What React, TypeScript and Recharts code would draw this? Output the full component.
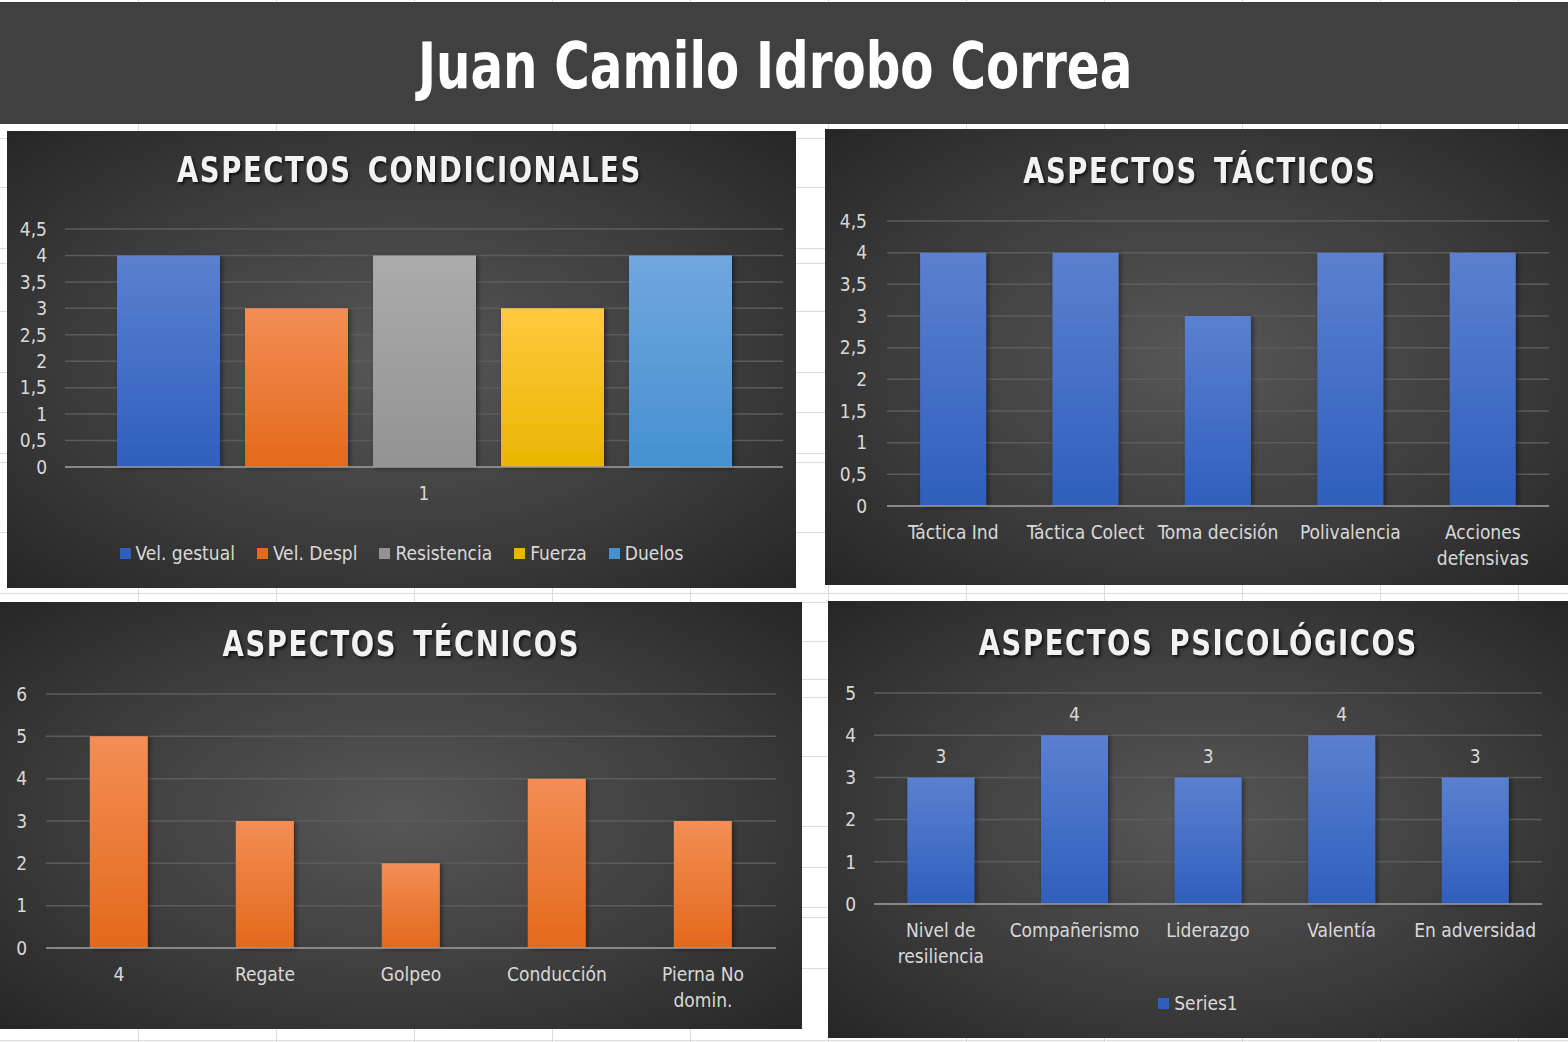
import React from 'react';
import { BarChart, Bar, XAxis, YAxis, CartesianGrid, LabelList } from 'recharts';

const FONT = "'Liberation Sans Narrow', 'DejaVu Sans Condensed', 'Open Sans', sans-serif";
const TEXT_COLOR = '#d9d9d9';
const GRID_COLOR = '#5c5c5c';
const AXIS_COLOR = '#9a9a9a';
const AX_FS = 19;

// ---------- data ----------
const pageTitle = 'Juan Camilo Idrobo Correa';

const condTitle = 'ASPECTOS CONDICIONALES';
const condCategories = ['1'];
const condSeries = ['Vel. gestual', 'Vel. Despl', 'Resistencia', 'Fuerza', 'Duelos'];
const condValues = [4, 3, 4, 3, 4];
const condColors = [
  ['#5b80cf', '#2f5fbd'],
  ['#f38e55', '#e3691c'],
  ['#ababab', '#939393'],
  ['#ffc93e', '#e9b600'],
  ['#70a7de', '#4690d0'],
];
const condTicks = [0, 0.5, 1, 1.5, 2, 2.5, 3, 3.5, 4, 4.5];

const tactTitle = 'ASPECTOS TÁCTICOS';
const tactCategories = ['Táctica Ind', 'Táctica Colect', 'Toma decisión', 'Polivalencia', 'Acciones defensivas'];
const tactValues = [4, 4, 3, 4, 4];
const tactTicks = [0, 0.5, 1, 1.5, 2, 2.5, 3, 3.5, 4, 4.5];

const tecTitle = 'ASPECTOS TÉCNICOS';
const tecCategories = ['4', 'Regate', 'Golpeo', 'Conducción', 'Pierna No domin.'];
const tecValues = [5, 3, 2, 4, 3];
const tecTicks = [0, 1, 2, 3, 4, 5, 6];

const psiTitle = 'ASPECTOS PSICOLÓGICOS';
const psiCategories = ['Nivel de resiliencia', 'Compañerismo', 'Liderazgo', 'Valentía', 'En adversidad'];
const psiValues = [3, 4, 3, 4, 3];
const psiSeriesName = 'Series1';
const psiTicks = [0, 1, 2, 3, 4, 5];

const BLUE = ['#5b80cf', '#2f5fbd'];
const ORANGE = ['#f38e55', '#e3691c'];

const sheetCols = [138, 276, 414, 552, 690, 828, 966, 1104, 1242, 1380, 1518];
const sheetRows = [138, 187, 248, 263, 311, 372, 412, 453, 462, 532, 593, 602, 641, 679, 697, 756, 826, 867, 907, 917, 968, 1040];

// ---------- helpers ----------
const fmt = (v: number) => String(v).replace('.', ',');

const tickStyle = { fill: TEXT_COLOR, fontSize: AX_FS, fontFamily: FONT };

let measureCtx: CanvasRenderingContext2D | null = null;
const measure = (s: string) => {
  if (!measureCtx) measureCtx = document.createElement('canvas').getContext('2d');
  if (!measureCtx) return s.length * AX_FS * 0.5;
  measureCtx.font = `${AX_FS}px ${FONT}`;
  return measureCtx.measureText(s).width;
};
const wrap = (text: string, maxW: number) => {
  const words = String(text).split(' ');
  const lines: string[] = [];
  let cur = '';
  words.forEach((w) => {
    const cand = cur ? cur + ' ' + w : w;
    if (cur && measure(cand) > maxW) {
      lines.push(cur);
      cur = w;
    } else {
      cur = cand;
    }
  });
  if (cur) lines.push(cur);
  return lines;
};

const WrapTick = (props: any) => {
  const { x, y, payload } = props;
  const lines = wrap(payload.value, 126);
  return (
    <text x={x} y={y} textAnchor="middle" fill={TEXT_COLOR} fontSize={AX_FS} fontFamily={FONT}>
      {lines.map((l, i) => (
        <tspan key={i} x={x} dy={i === 0 ? '0.71em' : 26}>
          {l}
        </tspan>
      ))}
    </text>
  );
};

const Grad = ({ id, c }: { id: string; c: string[] }) => (
  <linearGradient id={id} x1="0" y1="0" x2="0" y2="1">
    <stop offset="0%" stopColor={c[0]} />
    <stop offset="100%" stopColor={c[1]} />
  </linearGradient>
);

const Shadow = () => (
  <filter id="barShadow" x="-10%" y="-10%" width="130%" height="120%">
    <feDropShadow dx="2" dy="1" stdDeviation="2.5" floodColor="#000" floodOpacity="0.45" />
  </filter>
);

const panelBg = 'radial-gradient(ellipse at center, #575757 0%, #404040 50%, #262626 100%)';

const Panel = ({ left, top, width, height, title, titleY, titleDx = 0, children }: any) => (
  <div
    style={{
      position: 'absolute',
      left,
      top,
      width,
      height,
      background: panelBg,
      overflow: 'hidden',
    }}
  >
    {children}
    <div
      style={{
        position: 'absolute',
        left: titleDx,
        width: '100%',
        top: titleY - 22,
        height: 44,
        lineHeight: '44px',
        textAlign: 'center',
        pointerEvents: 'none',
      }}
    >
      <span
        style={{
          display: 'inline-block',
          transform: 'scaleX(0.85)',
          color: '#f2f2f2',
          fontFamily: FONT,
          fontWeight: 'bold',
          fontSize: 36,
          letterSpacing: 1.8,
          wordSpacing: 6,
          textShadow: '2px 2px 3px rgba(0,0,0,0.7)',
          whiteSpace: 'nowrap',
        }}
      >
        {title}
      </span>
    </div>
  </div>
);

const LegendRow = ({ items, y }: { items: { name: string; color: string }[]; y: number }) => (
  <div
    style={{
      position: 'absolute',
      left: 0,
      width: '100%',
      top: y - 14,
      height: 28,
      display: 'flex',
      justifyContent: 'center',
      alignItems: 'center',
      gap: 22,
      fontFamily: FONT,
      fontSize: AX_FS,
      color: TEXT_COLOR,
    }}
  >
    {items.map((it) => (
      <div key={it.name} style={{ display: 'flex', alignItems: 'center', gap: 5 }}>
        <span style={{ display: 'inline-block', width: 11, height: 11, background: it.color }} />
        <span>{it.name}</span>
      </div>
    ))}
  </div>
);

// ---------- charts ----------
const condData = condCategories.map((cat) => {
  const row: any = { cat };
  condSeries.forEach((s, i) => (row[s] = condValues[i]));
  return row;
});
const tactData = tactCategories.map((cat, i) => ({ cat, value: tactValues[i] }));
const tecData = tecCategories.map((cat, i) => ({ cat, value: tecValues[i] }));
const psiData = psiCategories.map((cat, i) => ({ cat, value: psiValues[i] }));

const CondChart = () => {
  const W = 789, H = 457;
  return (
    <Panel left={7} top={131} width={W} height={H} title={condTitle} titleY={39} titleDx={8}>
      <BarChart width={W} height={H} data={condData} margin={{ top: 98, right: 13, bottom: 0, left: 0 }} barSize={103} barGap={25}>
        <defs>
          {condColors.map((c, i) => (
            <Grad key={i} id={`cond${i}`} c={c} />
          ))}
          <Shadow />
        </defs>
        <CartesianGrid vertical={false} stroke={GRID_COLOR} strokeWidth={1.5} />
        <YAxis width={58} domain={[0, 4.5]} ticks={condTicks} tickFormatter={fmt} axisLine={false} tickLine={false} tickSize={0} tickMargin={18} tick={tickStyle} interval={0} />
        <XAxis dataKey="cat" height={121} axisLine={{ stroke: AXIS_COLOR, strokeWidth: 1.5 }} tickLine={false} tickSize={0} tickMargin={20} tick={tickStyle} />
        {condSeries.map((s, i) => (
          <Bar key={s} dataKey={s} fill={`url(#cond${i})`} isAnimationActive={false} filter="url(#barShadow)" />
        ))}
      </BarChart>
      <LegendRow y={422} items={condSeries.map((s, i) => ({ name: s, color: condColors[i][1] }))} />
    </Panel>
  );
};

const TactChart = () => {
  const W = 743, H = 456;
  return (
    <Panel left={825} top={129} width={W} height={H} title={tactTitle} titleY={42} titleDx={3}>
      <BarChart width={W} height={H} data={tactData} margin={{ top: 92, right: 19, bottom: 0, left: 0 }} barCategoryGap="25%">
        <defs>
          <Grad id="tact" c={BLUE} />
          <Shadow />
        </defs>
        <CartesianGrid vertical={false} stroke={GRID_COLOR} strokeWidth={1.5} />
        <YAxis width={62} domain={[0, 4.5]} ticks={tactTicks} tickFormatter={fmt} axisLine={false} tickLine={false} tickSize={0} tickMargin={20} tick={tickStyle} interval={0} />
        <XAxis dataKey="cat" height={79} interval={0} axisLine={{ stroke: AXIS_COLOR, strokeWidth: 1.5 }} tickLine={false} tickSize={0} tickMargin={20} tick={<WrapTick />} />
        <Bar dataKey="value" fill="url(#tact)" isAnimationActive={false} filter="url(#barShadow)" />
      </BarChart>
    </Panel>
  );
};

const TecChart = () => {
  const W = 802, H = 427;
  return (
    <Panel left={0} top={602} width={W} height={H} title={tecTitle} titleY={42}>
      <BarChart width={W} height={H} data={tecData} margin={{ top: 92, right: 26, bottom: 0, left: 0 }} barCategoryGap="30%">
        <defs>
          <Grad id="tec" c={ORANGE} />
          <Shadow />
        </defs>
        <CartesianGrid vertical={false} stroke={GRID_COLOR} strokeWidth={1.5} />
        <YAxis width={46} domain={[0, 6]} ticks={tecTicks} axisLine={false} tickLine={false} tickSize={0} tickMargin={19} tick={tickStyle} interval={0} />
        <XAxis dataKey="cat" height={81} interval={0} axisLine={{ stroke: AXIS_COLOR, strokeWidth: 1.5 }} tickLine={false} tickSize={0} tickMargin={20} tick={<WrapTick />} />
        <Bar dataKey="value" fill="url(#tec)" isAnimationActive={false} filter="url(#barShadow)" />
      </BarChart>
    </Panel>
  );
};

const PsiChart = () => {
  const W = 740, H = 437;
  return (
    <Panel left={828} top={601} width={W} height={H} title={psiTitle} titleY={42}>
      <BarChart width={W} height={H} data={psiData} margin={{ top: 92, right: 26, bottom: 0, left: 0 }} barCategoryGap="25%">
        <defs>
          <Grad id="psi" c={BLUE} />
          <Shadow />
        </defs>
        <CartesianGrid vertical={false} stroke={GRID_COLOR} strokeWidth={1.5} />
        <YAxis width={46} domain={[0, 5]} ticks={psiTicks} axisLine={false} tickLine={false} tickSize={0} tickMargin={18} tick={tickStyle} interval={0} />
        <XAxis dataKey="cat" height={134} interval={0} axisLine={{ stroke: AXIS_COLOR, strokeWidth: 1.5 }} tickLine={false} tickSize={0} tickMargin={20} tick={<WrapTick />} />
        <Bar dataKey="value" name={psiSeriesName} fill="url(#psi)" isAnimationActive={false} filter="url(#barShadow)">
          <LabelList dataKey="value" position="top" offset={14} fill={TEXT_COLOR} style={{ fontSize: AX_FS, fontFamily: FONT }} />
        </Bar>
      </BarChart>
      <LegendRow y={402} items={[{ name: psiSeriesName, color: BLUE[1] }]} />
    </Panel>
  );
};

export default function App() {
  return (
    <div
      style={{
        position: 'fixed',
        left: 0,
        top: 0,
        width: 1568,
        height: 1042,
        background: '#ffffff',
        overflow: 'hidden',
      }}
    >
      {sheetCols.map((x) => (
        <div key={'c' + x} style={{ position: 'absolute', left: x, top: 0, width: 1, height: 1042, background: '#dcdcdc' }} />
      ))}
      {sheetRows.map((y) => (
        <div key={'r' + y} style={{ position: 'absolute', left: 0, top: y, width: 1568, height: 1, background: '#dcdcdc' }} />
      ))}
      <div
        style={{
          position: 'absolute',
          left: 0,
          top: 2,
          width: 1568,
          height: 122,
          background: '#404040',
          textAlign: 'center',
          lineHeight: '128px',
          paddingRight: 18,
          boxSizing: 'border-box',
          overflow: 'hidden',
        }}
      >
        <span
          style={{
            display: 'inline-block',
            transform: 'scaleX(0.84)',
            color: '#ffffff',
            fontFamily: FONT,
            fontWeight: 'bold',
            fontSize: 64,
            whiteSpace: 'nowrap',
          }}
        >
          {pageTitle}
        </span>
      </div>
      <CondChart />
      <TactChart />
      <TecChart />
      <PsiChart />
    </div>
  );
}
